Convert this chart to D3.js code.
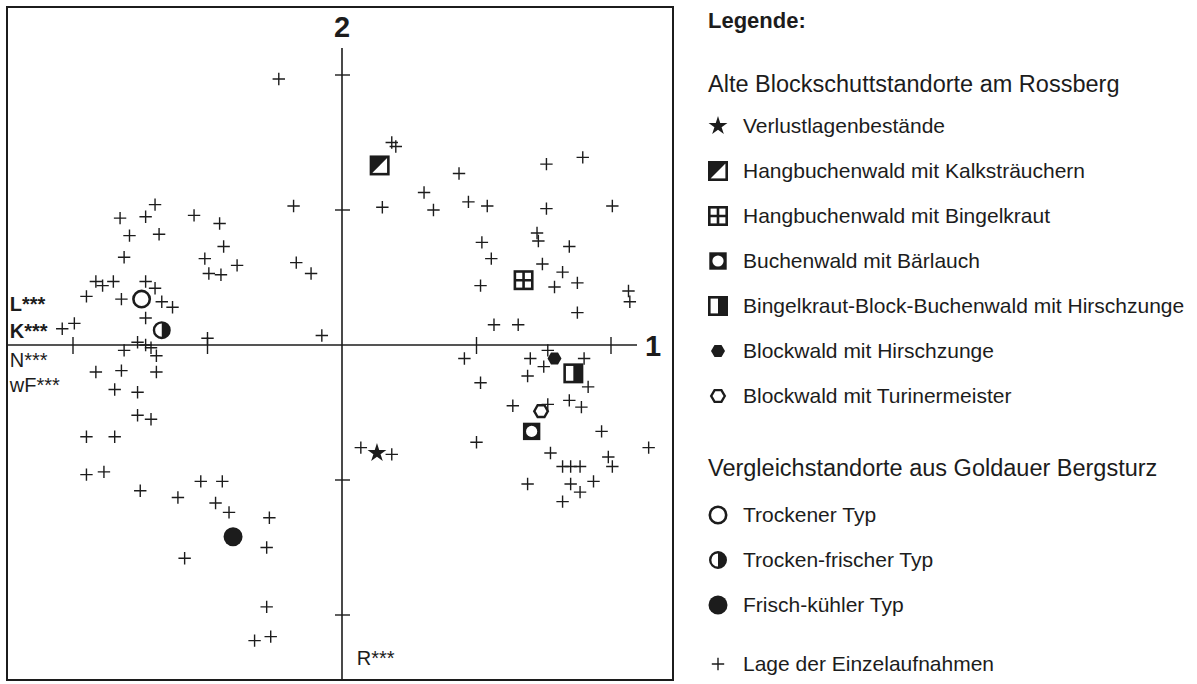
<!DOCTYPE html>
<html><head><meta charset="utf-8">
<script src="https://cdn.jsdelivr.net/npm/d3@7"></script>
<style>
body{margin:0;background:#fff;}
svg{display:block;font-family:"Liberation Sans",Arial,Helvetica,sans-serif;}
</style>
</head><body>
<svg id="chart" width="1197" height="684"></svg>
<script>
// ---- DATA (ordination scores, axis 1 = x, axis 2 = y) ----
const releveX = [-0.47,-1.39,-1.65,-1.46,-1.10,-0.91,-1.58,-1.36,-0.36,-0.88,-1.62,-1.02,-0.99,-0.90,-0.78,-0.34,-0.23,-1.83,-1.78,-1.70,-1.90,-1.64,-1.46,-1.39,-1.34,-1.26,-1.46,-2.08,-1.99,-0.15,-1.00,-1.52,-1.46,-1.42,-1.62,-1.38,-1.83,-1.64,-1.38,-1.69,-1.52,-1.52,-1.42,-1.90,-1.69,-1.90,-1.77,-1.50,-1.22,-1.05,-0.89,-0.94,-0.84,-0.54,-0.56,-1.17,-0.56,-0.65,-0.53,
 0.37,0.40,0.87,1.52,1.79,0.61,0.30,0.68,0.94,1.08,1.52,2.01,1.04,1.11,1.45,1.46,1.69,1.49,1.64,1.58,1.75,1.03,2.13,2.14,1.75,1.13,1.31,
 0.91,1.03,1.53,1.40,1.50,1.80,1.38,1.83,1.27,1.53,1.69,1.78,1.93,1.00,2.28,1.55,1.98,2.01,1.64,1.70,1.77,1.38,1.70,1.77,1.87,1.64,0.14,0.37];
const releveY = [1.97,1.04,0.94,0.95,0.96,0.90,0.81,0.82,1.03,0.73,0.65,0.64,0.53,0.52,0.59,0.61,0.53,0.47,0.44,0.47,0.36,0.34,0.47,0.42,0.32,0.28,0.20,0.12,0.16,0.07,0.05,0.02,0.00,-0.02,-0.04,-0.08,-0.20,-0.19,-0.20,-0.33,-0.35,-0.52,-0.55,-0.68,-0.68,-0.96,-0.94,-1.08,-1.13,-1.01,-1.01,-1.17,-1.24,-1.28,-1.50,-1.58,-1.94,-2.19,-2.16,
 1.50,1.47,1.27,1.34,1.39,1.13,1.02,1.00,1.06,1.03,1.01,1.03,0.76,0.64,0.83,0.77,0.73,0.60,0.54,0.43,0.46,0.44,0.40,0.32,0.24,0.15,0.15,
 -0.10,-0.28,-0.04,-0.10,-0.16,-0.10,-0.23,-0.31,-0.45,-0.44,-0.41,-0.46,-0.64,-0.72,-0.76,-0.80,-0.83,-0.90,-0.90,-0.90,-0.90,-1.03,-1.03,-1.09,-1.01,-1.16,-0.76,-0.81];

const groupNames = ["Verlustlagenbestände","Hangbuchenwald mit Kalksträuchern","Hangbuchenwald mit Bingelkraut","Buchenwald mit Bärlauch","Bingelkraut-Block-Buchenwald mit Hirschzunge","Blockwald mit Hirschzunge","Blockwald mit Turinermeister","Trockener Typ","Trocken-frischer Typ","Frisch-kühler Typ"];
const groupSymbols = ["star","sqDiag","sqGrid","sqRing","sqHalf","hexFill","hexOpen","circOpen","circHalf","circFill"];
const groupX = [0.26,0.28,1.35,1.41,1.72,1.58,1.48,-1.49,-1.34,-0.81];
const groupY = [-0.80,1.33,0.48,-0.64,-0.21,-0.10,-0.49,0.34,0.11,-1.42];

const axisTicks = [-2,-1,1,2];
const envLabels = ["L***","K***","N***","wF***","R***"];
const envBold = [true,true,false,false,false];
const envX = [-2.47,-2.47,-2.47,-2.47,0.11];
const envY = [0.25,0.05,-0.16,-0.35,-2.37];

const legendTitle = "Legende:";
const legendHead1 = "Alte Blockschuttstandorte am Rossberg";
const legendHead2 = "Vergleichstandorte aus Goldauer Bergsturz";
const releveLabel = "Lage der Einzelaufnahmen";

// ---- LAYOUT ----
const ink = "#1c1c1c";
const svg = d3.select("#chart");
const x = d3.scaleLinear().domain([-2,2]).range([73,611]);
const y = d3.scaleLinear().domain([-2,2]).range([615,75]);
const frame = {l:7, t:7, r:673, b:680};

svg.append("rect").attr("x",frame.l).attr("y",frame.t)
  .attr("width",frame.r-frame.l).attr("height",frame.b-frame.t)
  .attr("fill","none").attr("stroke",ink).attr("stroke-width",2);

// axes
svg.append("line").attr("x1",frame.l).attr("x2",637).attr("y1",y(0)).attr("y2",y(0))
  .attr("stroke",ink).attr("stroke-width",1.6);
svg.append("line").attr("x1",x(0)).attr("x2",x(0)).attr("y1",48).attr("y2",frame.b)
  .attr("stroke",ink).attr("stroke-width",1.6);
svg.selectAll(".tx").data(axisTicks).join("line")
  .attr("x1",d=>x(d)).attr("x2",d=>x(d)).attr("y1",y(0)-8).attr("y2",y(0)+9)
  .attr("stroke",ink).attr("stroke-width",1.4);
svg.selectAll(".ty").data(axisTicks).join("line")
  .attr("x1",x(0)-7).attr("x2",x(0)+8).attr("y1",d=>y(d)).attr("y2",d=>y(d))
  .attr("stroke",ink).attr("stroke-width",1.4);

svg.append("text").attr("x",x(0)).attr("y",37).attr("text-anchor","middle")
  .attr("font-size",29).attr("font-weight","bold").attr("fill",ink).text("2");
svg.append("text").attr("x",653).attr("y",356).attr("text-anchor","middle")
  .attr("font-size",29).attr("font-weight","bold").attr("fill",ink).text("1");

svg.selectAll(".env").data(envLabels).join("text")
  .attr("x",(d,i)=>x(envX[i])).attr("y",(d,i)=>y(envY[i]))
  .attr("font-size",20).attr("font-weight",(d,i)=>envBold[i]?"bold":"normal")
  .attr("fill",ink).text(d=>d);

// symbol drawing
function drawSymbol(g, type, s){
  const h = 8.7*s;
  switch(type){
    case "plus":
      g.append("path").attr("d",`M${-6.2*s},0H${6.2*s}M0,${-6.2*s}V${6.2*s}`)
        .attr("stroke",ink).attr("stroke-width",1.4).attr("fill","none"); break;
    case "star":
      g.append("path").attr("d",d3.symbol(d3.symbolStar,110*s*s)()).attr("fill",ink); break;
    case "sqDiag":
      g.append("rect").attr("x",-h).attr("y",-h).attr("width",2*h).attr("height",2*h)
        .attr("fill","#fff").attr("stroke",ink).attr("stroke-width",2.6);
      g.append("path").attr("d",`M${-h},${-h}H${h}L${-h},${h}Z`).attr("fill",ink); break;
    case "sqGrid":
      g.append("rect").attr("x",-h).attr("y",-h).attr("width",2*h).attr("height",2*h)
        .attr("fill","#fff").attr("stroke",ink).attr("stroke-width",2.6);
      g.append("path").attr("d",`M${-h},0H${h}M0,${-h}V${h}`).attr("stroke",ink).attr("stroke-width",2.6); break;
    case "sqRing":
      g.append("rect").attr("x",-h).attr("y",-h).attr("width",2*h).attr("height",2*h).attr("fill",ink);
      g.append("circle").attr("r",5.6*s).attr("fill","#fff"); break;
    case "sqHalf":
      g.append("rect").attr("x",-h).attr("y",-h).attr("width",2*h).attr("height",2*h)
        .attr("fill","#fff").attr("stroke",ink).attr("stroke-width",2.6);
      g.append("rect").attr("x",0).attr("y",-h).attr("width",h).attr("height",2*h).attr("fill",ink); break;
    case "hexFill":
    case "hexOpen": {
      const r = (type==="hexFill"?7:6.8)*s;
      const pts = d3.range(6).map(k=>{const a=Math.PI/3*k; return [r*Math.cos(a), r*Math.sin(a)];});
      const p = g.append("path").attr("d","M"+pts.join("L")+"Z");
      if(type==="hexFill") p.attr("fill",ink);
      else p.attr("fill","#fff").attr("stroke",ink).attr("stroke-width",2.4);
      break; }
    case "circOpen":
      g.append("circle").attr("r",8.2*s).attr("fill","#fff").attr("stroke",ink).attr("stroke-width",2.6); break;
    case "circHalf":
      g.append("circle").attr("r",7.8*s).attr("fill","#fff").attr("stroke",ink).attr("stroke-width",2.4);
      g.append("path").attr("d",`M0,${-7.8*s}A${7.8*s},${7.8*s} 0 0 1 0,${7.8*s}Z`).attr("fill",ink); break;
    case "circFill":
      g.append("circle").attr("r",9.5*s).attr("fill",ink); break;
  }
}

// releve crosses
const releves = releveX.map((v,i)=>({x:v,y:releveY[i]}));
svg.append("g").selectAll("g").data(releves).join("g")
  .attr("transform",d=>`translate(${x(d.x)},${y(d.y)})`)
  .each(function(){ drawSymbol(d3.select(this),"plus",1); });

// group centroids
const groups = groupNames.map((n,i)=>({n, sym:groupSymbols[i], x:groupX[i], y:groupY[i]}));
svg.append("g").selectAll("g").data(groups).join("g")
  .attr("transform",d=>`translate(${x(d.x)},${y(d.y)})`)
  .each(function(d){ drawSymbol(d3.select(this),d.sym,1); });

// ---- LEGEND ----
const lg = svg.append("g");
const lx = 708, symX = 718, txtX = 743;
lg.append("text").attr("x",lx).attr("y",28).attr("font-size",22).attr("font-weight","bold").attr("fill",ink).text(legendTitle);
lg.append("text").attr("x",lx).attr("y",92).attr("font-size",23.5).attr("fill",ink).text(legendHead1);
lg.append("text").attr("x",lx).attr("y",476).attr("font-size",23.5).attr("fill",ink).text(legendHead2);

const legendRows = groups.map((g,i)=>({n:g.n, sym:g.sym, base: i<7 ? 133+45*i : 522+45*(i-7)}));
legendRows.push({n:releveLabel, sym:"plus", base:671});
const rows = lg.selectAll(".row").data(legendRows).join("g");
rows.append("text").attr("x",txtX).attr("y",d=>d.base).attr("font-size",21).attr("fill",ink).text(d=>d.n);
rows.append("g").attr("transform",d=>`translate(${symX},${d.base-7})`)
  .each(function(d){ drawSymbol(d3.select(this),d.sym,1); });
</script>
</body></html>
